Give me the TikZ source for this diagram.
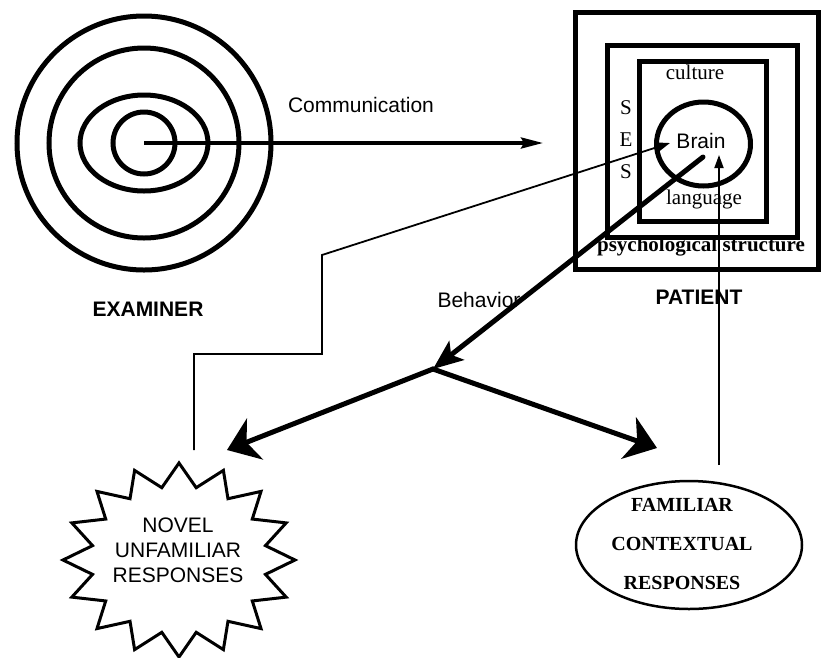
\documentclass[tikz,border=0pt]{standalone}
\usepackage{fontspec}
\setmainfont{Liberation Serif}
\newfontfamily\hv{Liberation Sans}
\usetikzlibrary{arrows.meta,shapes.geometric}
\begin{document}
\begin{tikzpicture}[x=1pt,y=-1pt,
  ring/.style={line width=5pt},
  boxline/.style={draw,line width=5pt,inset sep=0pt},
  sanslbl/.style={font=\hv\fontsize{21}{25}\selectfont,inner sep=0pt},
  sansbold/.style={font=\hv\bfseries\fontsize{21}{25}\selectfont,inner sep=0pt},
  seriflbl/.style={font=\fontsize{21}{25}\selectfont,inner sep=0pt},
  serifbold/.style={font=\bfseries\fontsize{21}{25}\selectfont,inner sep=0pt},
  commarrow/.style={line width=3.5pt,-{Stealth[length=22pt,width=11pt,inset=3pt]}},
  thinarrow/.style={line width=1.8pt,-{Triangle[length=13pt,width=9pt]}},
  behav/.style={line width=5pt,line cap=round,-{Stealth[length=30pt,width=24pt,inset=7pt]}},
  bigarrow/.style={line width=5pt,line cap=round,-{Stealth[length=30pt,width=44pt,inset=9pt]}}
]
\useasboundingbox (0,0) rectangle (822,657);
\fill[white] (0,0) rectangle (822,657);

% Examiner
\coordinate (ex) at (144,143);
\draw[ring] (ex) circle[radius=127pt];
\draw[ring] (ex) circle[radius=95pt];
\draw[ring] (ex) ellipse[x radius=64pt,y radius=48pt];
\draw[ring] (ex) circle[radius=31pt];
\node[sansbold] (examiner) at (148,309) {EXAMINER};

% Patient boxes
\draw[ring] (575,12.5) rectangle (818,269.5);
\draw[ring] (607,45) rectangle (797,237);
\draw[ring] (639,61) rectangle (766,221);
\draw[ring] (703.5,144) ellipse[x radius=47pt,y radius=42pt];
\node[sanslbl] (brain) at (701,141) {Brain};
\node[seriflbl] (culture) at (695,72) {culture};
\node[seriflbl] (language) at (704,199) {language};
\node[serifbold] (psych) at (701,247) {psychological structure};
\node[seriflbl] (s1) at (626,108) {S};
\node[seriflbl] (e1) at (626,140) {E};
\node[seriflbl] (s2) at (626,172) {S};
\node[sansbold] (patient) at (699,297) {PATIENT};

% Communication
\coordinate (commend) at (543,143);
\draw[commarrow] (ex) -- (commend);
\node[sanslbl] (comm) at (361,105) {Communication};

% Behavior
\coordinate (bstart) at (703,157);
\coordinate (fork) at (433,369);
\coordinate (ltip) at (227,450);
\coordinate (rtip) at (657,448);
\draw[behav] (bstart) -- (fork);
\draw[bigarrow] (fork) -- (ltip);
\draw[bigarrow] (fork) -- (rtip);
\node[sanslbl] (behavior) at (479,300) {Behavior};

% Star
\draw[line width=3pt,line join=miter,fill=white]
  plot[samples at={0,...,31},variable=\k]
  ({179+(isodd(\k)?0.76:1)*116*cos(90+\k*11.25)},
   {560-(isodd(\k)?0.76:1)*97*sin(90+\k*11.25)}) -- cycle;
\node[sanslbl,align=center] (novel) at (178,550) {NOVEL\\UNFAMILIAR\\RESPONSES};

% Ellipse
\node[draw,ellipse,line width=2.5pt,minimum width=226pt,minimum height=128pt,inner sep=0pt] (fam) at (689,545) {};
\node[font=\bfseries\fontsize{20}{39}\selectfont,align=center,inner sep=0pt] (famtext) at (682,544) {FAMILIAR\\CONTEXTUAL\\RESPONSES};

% Feedback lines
\coordinate (novtop) at (194,450);
\coordinate (braintip) at (670,143);
\draw[thinarrow] (novtop) -- (194,354) -- (322,354) -- (322,255) -- (braintip);
\coordinate (famtop) at (719,465);
\coordinate (braintip2) at (719,155);
\draw[thinarrow] (famtop) -- (braintip2);
\end{tikzpicture}
\end{document}
